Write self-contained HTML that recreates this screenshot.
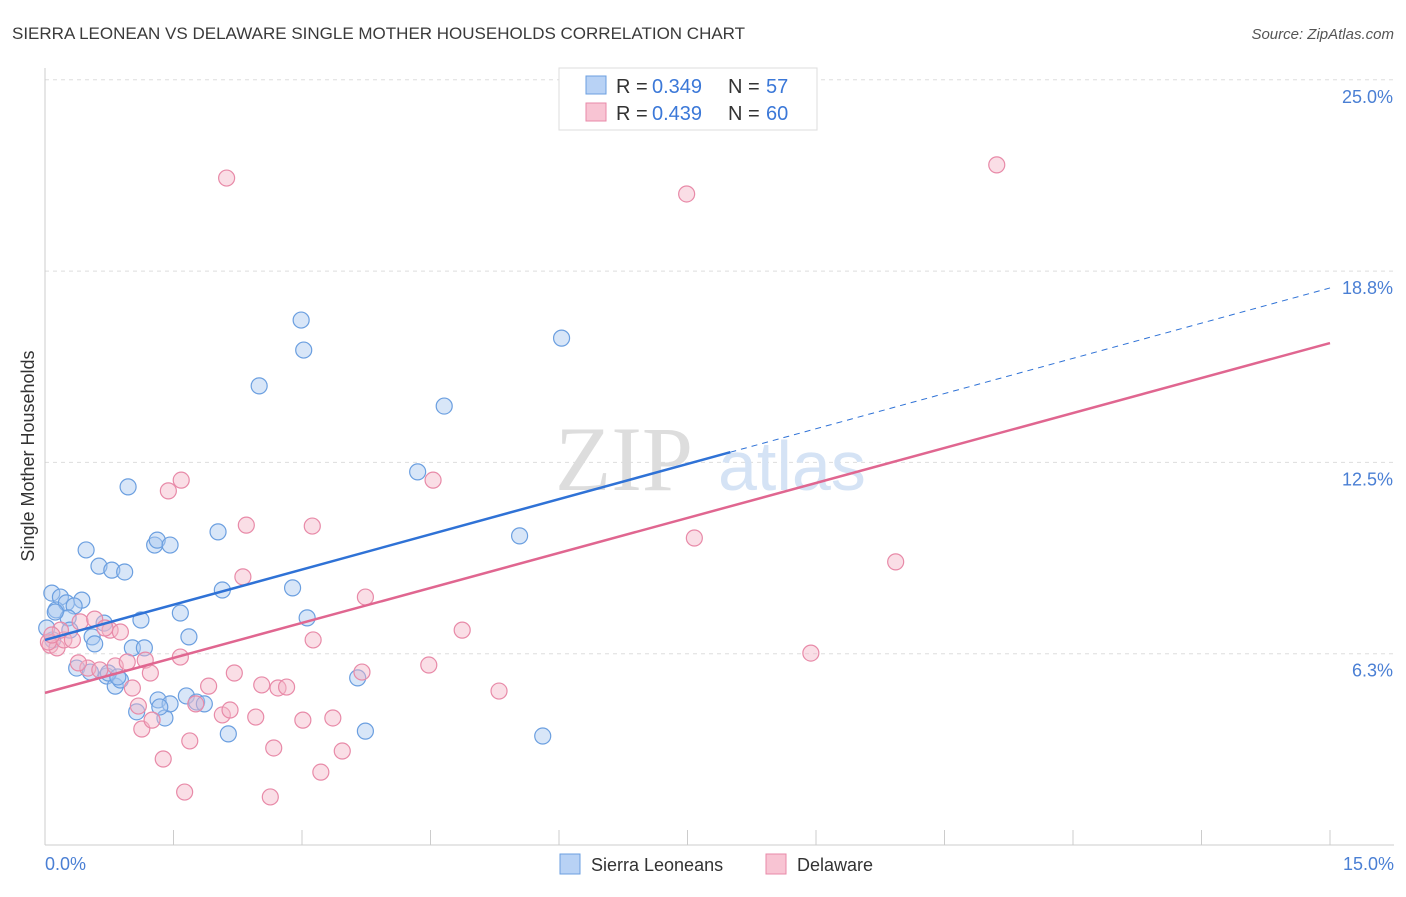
<!DOCTYPE html>
<html><head><meta charset="utf-8"><style>
body{margin:0;background:#fff;font-family:"Liberation Sans",sans-serif;}
</style></head><body>
<svg width="1406" height="892" xmlns="http://www.w3.org/2000/svg" style="font-family:'Liberation Sans',sans-serif">
<text x="12" y="39" font-size="17" fill="#3a3a3a">SIERRA LEONEAN VS DELAWARE SINGLE MOTHER HOUSEHOLDS CORRELATION CHART</text>
<text x="1394" y="39" font-size="15" fill="#555" font-style="italic" text-anchor="end">Source: ZipAtlas.com</text>
<g id="grid"></g>
<g id="axes"></g>
<text x="555" y="490" font-size="92" fill="#ddd" font-family="Liberation Serif">ZIP</text>
<text x="718" y="490" font-size="70" fill="#d5e3f5">atlas</text>
<g id="pts"></g>
<g id="lines"></g>
<text transform="translate(34,456) rotate(-90)" font-size="18" fill="#333" text-anchor="middle">Single Mother Households</text>
<text x="45" y="870" font-size="18" fill="#4a7fd4">0.0%</text>
<text x="1394" y="870" font-size="18" fill="#4a7fd4" text-anchor="end">15.0%</text>
<g>
<rect x="559" y="68" width="258" height="62" fill="#fff" stroke="#ddd"/>
<rect x="586" y="76" width="20" height="18" fill="#b8d2f5" stroke="#6b9fe0"/>
<rect x="586" y="103" width="20" height="18" fill="#f8c4d3" stroke="#e88aa8"/>
<text x="616" y="93" font-size="20" fill="#333">R =</text><text x="652" y="93" font-size="20" fill="#3b78d8">0.349</text>
<text x="728" y="93" font-size="20" fill="#333">N =</text><text x="766" y="93" font-size="20" fill="#3b78d8">57</text>
<text x="616" y="120" font-size="20" fill="#333">R =</text><text x="652" y="120" font-size="20" fill="#3b78d8">0.439</text>
<text x="728" y="120" font-size="20" fill="#333">N =</text><text x="766" y="120" font-size="20" fill="#3b78d8">60</text>
</g>
<g>
<rect x="560" y="854" width="20" height="20" fill="#b8d2f5" stroke="#6b9fe0"/>
<text x="591" y="871" font-size="18" fill="#333">Sierra Leoneans</text>
<rect x="766" y="854" width="20" height="20" fill="#f8c4d3" stroke="#e88aa8"/>
<text x="797" y="871" font-size="18" fill="#333">Delaware</text>
</g>
</svg>
<script>
const yTicks=[6.25,12.5,18.75,25];
const yTickLabels=["6.3%","12.5%","18.8%","25.0%"];
const blueX=[0.08,0.18,0.13,0.25,0.43,0.34,0.27,0.29,0.09,0.12,0.48,0.63,0.78,0.93,0.97,0.69,0.55,0.58,1.02,1.12,1.16,0.37,0.53,0.72,0.82,0.88,1.07,1.32,1.40,1.46,1.65,1.77,1.86,1.28,1.31,1.46,1.58,1.68,2.02,2.07,2.14,2.50,2.89,2.99,3.02,3.06,3.65,3.74,4.35,4.66,5.54,5.81,6.03,0.02,0.74,0.85,1.34];
const blueY=[8.23,8.10,7.68,7.91,8.00,7.81,7.42,7.02,6.70,7.61,9.64,9.11,8.98,8.92,11.70,7.25,6.80,6.57,6.44,7.35,6.44,5.78,5.65,5.52,5.19,5.39,4.35,4.74,4.15,4.61,4.87,4.67,4.61,9.80,9.96,9.80,7.58,6.80,10.23,8.33,3.63,15.00,8.40,17.15,16.17,7.42,5.46,3.72,12.19,14.34,10.10,3.56,16.56,7.09,5.62,5.49,4.51];
const pinkX=[0.06,0.14,0.22,0.18,0.41,0.58,0.76,0.88,0.32,0.50,0.64,0.82,0.96,1.02,1.17,1.23,1.58,1.09,1.13,1.38,1.44,1.59,1.69,1.63,1.76,1.91,2.07,2.16,2.21,2.12,2.31,2.35,2.46,2.53,2.63,2.67,2.72,2.82,3.01,3.12,3.13,3.22,3.36,3.47,3.70,3.74,4.53,4.48,4.87,5.30,7.49,7.58,8.94,9.93,11.11,0.04,0.08,0.70,1.25,0.39];
const pinkY=[6.53,6.44,6.70,7.02,7.29,7.38,7.02,6.96,6.70,5.78,5.72,5.85,5.98,5.13,6.04,5.62,6.14,4.54,3.79,2.81,11.57,11.92,3.40,1.73,4.61,5.19,4.25,4.41,5.62,21.79,8.76,10.45,4.18,5.23,1.57,3.17,5.13,5.16,4.08,10.42,6.70,2.38,4.15,3.07,5.65,8.10,11.92,5.88,7.02,5.03,21.27,10.03,6.27,9.25,22.22,6.63,6.86,7.09,4.08,5.95];
const blueLine=[6.70,18.2], blueSolidEnd=8.0;
const pinkLine=[4.97,16.4];
const NS="http://www.w3.org/2000/svg";
const sx=v=>45+v/15*1285, sy=v=>845-v/6.25*191.3;
function mk(t,a,p){const e=document.createElementNS(NS,t);for(const k in a)e.setAttribute(k,a[k]);p.appendChild(e);return e;}
const grid=document.getElementById('grid'),axes=document.getElementById('axes');
yTicks.forEach((t,i)=>{
 const l=mk('line',{x1:45,x2:1394,y1:sy(t),y2:sy(t),stroke:'#ddd','stroke-dasharray':'4,4'},grid);
 
 
 const tx=mk('text',{x:1393,y:sy(t)+23,'font-size':18,fill:'#4a7fd4','text-anchor':'end'},axes);
 tx.textContent=yTickLabels[i];
 
 
});
mk('line',{x1:45,x2:45,y1:68,y2:845,stroke:'#ccc'},axes);
mk('line',{x1:45,x2:1394,y1:845,y2:845,stroke:'#ccc'},axes);
for(let i=0;i<=10;i++){const t=mk('line',{x1:sx(i*1.5),x2:sx(i*1.5),y1:830,y2:845,stroke:'#ccc'},axes);
 
 }
const pts=document.getElementById('pts');
function dots(X,Y,fill,stroke,name){X.forEach((x,i)=>{const c=mk('circle',{cx:sx(x),cy:sy(Y[i]),r:8,fill:fill,'fill-opacity':0.45,stroke:stroke,'stroke-width':1.2},pts);
 
 });}
dots(blueX,blueY,'#a9c8f0','#6b9fe0','sierra-leonean-point');
dots(pinkX,pinkY,'#f5b5c8','#e88aa8','delaware-point');
const lines=document.getElementById('lines');
const by=x=>blueLine[0]+(blueLine[1]-blueLine[0])*x/15;
let l1=mk('line',{x1:sx(0),y1:sy(by(0)),x2:sx(blueSolidEnd),y2:sy(by(blueSolidEnd)),stroke:'#2f72d6','stroke-width':2.5},lines);


let l2=mk('line',{x1:sx(blueSolidEnd),y1:sy(by(blueSolidEnd)),x2:sx(15),y2:sy(by(15)),stroke:'#2f72d6','stroke-width':1,'stroke-dasharray':'6,5'},lines);


let l3=mk('line',{x1:sx(0),y1:sy(pinkLine[0]),x2:sx(15),y2:sy(pinkLine[1]),stroke:'#e06690','stroke-width':2.5},lines);


</script>
</body></html>
